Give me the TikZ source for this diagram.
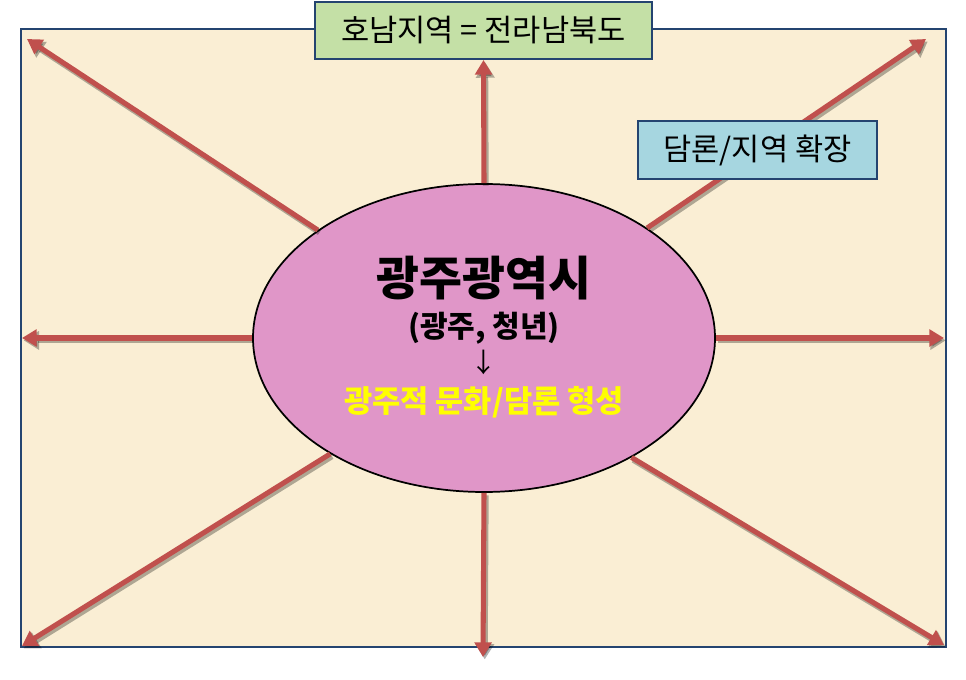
\documentclass[tikz,border=0pt]{standalone}
\usepackage{fontspec}
\setmainfont{Noto Sans CJK KR}
\usetikzlibrary{arrows.meta,positioning,shapes.geometric}

\definecolor{paper}{RGB}{250,238,212}
\definecolor{frameblue}{RGB}{36,68,112}
\definecolor{hnGreen}{RGB}{196,224,166}
\definecolor{extBlue}{RGB}{166,214,224}
\definecolor{cityPink}{RGB}{224,150,200}
\definecolor{rayRed}{RGB}{192,80,77}
\definecolor{hotYellow}{RGB}{255,255,0}

\begin{document}
\begin{tikzpicture}[x=0.75pt, y=-0.75pt,
  framebox/.style={draw=frameblue, line width=1.5pt, fill=paper},
  labelbox/.style={draw=frameblue, line width=1.5pt, inner sep=0pt, font=\fontsize{23}{26}\selectfont},
  cityell/.style={ellipse, draw=black, line width=1.3pt, fill=cityPink, minimum width=346.5pt, minimum height=231pt, inner sep=0pt},
  ray/.style={draw=rayRed, line width=3.8pt, -{Triangle[length=11pt,width=12.5pt]}},
  rayshadow/.style={draw=black, opacity=0.3, line width=4.4pt, -{Triangle[length=11.5pt,width=13.5pt]}, transform canvas={shift={(1.3pt,-1.8pt)}}}
]
\useasboundingbox (0,0) rectangle (966,680);

% Frame
\draw[framebox] (20.5,29.5) rectangle (945.5,647);

% Centre
\node[cityell] (city) at (484,338) {};
\node[font=\bfseries\fontsize{35}{38}\selectfont] (title) at (484,278) {광주광역시};
\node[font=\bfseries\fontsize{22.5}{25}\selectfont] (youth) at (484,328) {(광주, 청년)};
\node[font=\fontsize{20}{22}\selectfont] (down) at (484,362) {↓};
\node[font=\bfseries\fontsize{23}{26}\selectfont, text=hotYellow] (culture) at (484,402) {광주적 문화/담론 형성};

% Top label
\node[labelbox, fill=hnGreen, minimum width=252.75pt, minimum height=42.75pt] (hnbox) at (483.5,30.5) {호남지역 = 전라남북도};

% Arrow ends
\coordinate (tipNW) at (27,39);
\coordinate (tipNE) at (926,39);
\coordinate (tipW) at (22,338);
\coordinate (tipE) at (944,338);
\coordinate (tipSW) at (22,646);
\coordinate (tipS) at (483,657);
\coordinate (tipSE) at (944,645);

% Rays
\foreach \from/\to in {city.147/tipNW, city.north/hnbox.south, city.34/tipNE, city.west/tipW,
    city.east/tipE, city.217/tipSW, city.south/tipS, city.321/tipSE}{
  \draw[rayshadow] (\from) -- (\to);
  \draw[ray] (\from) -- (\to);
}

% Side label
\node[labelbox, fill=extBlue, minimum width=179.25pt, minimum height=43.5pt] (extbox) at (757.5,150) {담론/지역 확장};

\end{tikzpicture}
\end{document}
